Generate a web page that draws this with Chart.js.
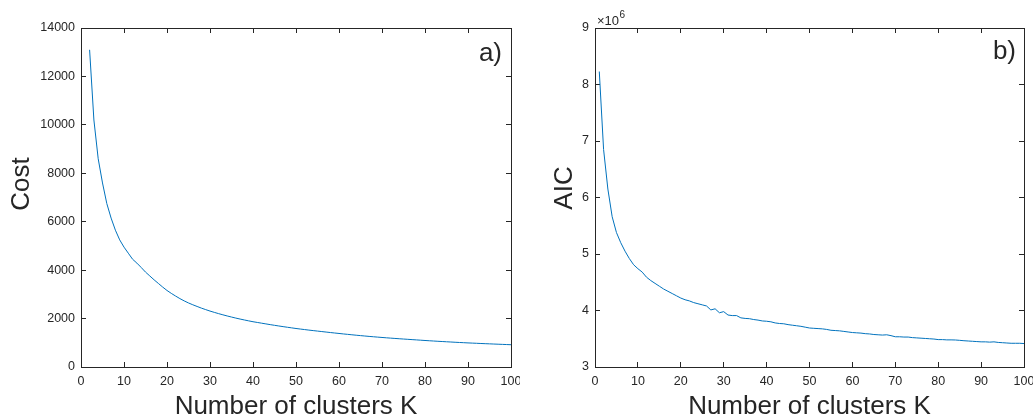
<!DOCTYPE html>
<html>
<head>
<meta charset="utf-8">
<title>Cost and AIC versus number of clusters</title>
<script src="https://cdn.jsdelivr.net/npm/chart.js@4/dist/chart.umd.min.js"></script>
<style>
  html, body { margin: 0; padding: 0; background: #ffffff; }
  #wrap { position: relative; width: 1033px; height: 417px; overflow: hidden; background: #ffffff; }
  canvas { position: absolute; top: 0; }
  #costCanvas { left: 0; }
  #aicCanvas { left: 520px; }
</style>
</head>
<body>
<div id="wrap">
  <canvas id="costCanvas" width="520" height="417"></canvas>
  <canvas id="aicCanvas" width="513" height="417"></canvas>
</div>
<script>
// ---- data ----------------------------------------------------------
// Panel a): clustering cost for K = 2 .. 100
const costK = Array.from({ length: 99 }, (_, i) => i + 2);
const costValues = [
  13100, 10200, 8600, 7600, 6750, 6150, 5650, 5250, 4950,        // K 2-10
  4700, 4450, 4290, 4110, 3920, 3760, 3600, 3450, 3300, 3160,    // K 11-20
  3040, 2930, 2825, 2730, 2645, 2570, 2500, 2432, 2370, 2310,    // K 21-30
  2256, 2204, 2155, 2108, 2063, 2020, 1980, 1942, 1905, 1870,    // K 31-40
  1840, 1810, 1780, 1750, 1722, 1694, 1667, 1641, 1616, 1590,    // K 41-50
  1568, 1546, 1524, 1503, 1483, 1463, 1443, 1423, 1404, 1385,    // K 51-60
  1366, 1348, 1330, 1313, 1296, 1280, 1264, 1249, 1234, 1220,    // K 61-70
  1206, 1193, 1180, 1167, 1155, 1143, 1131, 1119, 1107, 1095,    // K 71-80
  1084, 1073, 1062, 1052, 1042, 1032, 1022, 1013, 1004, 995,     // K 81-90
  987, 979, 971, 963, 956, 948, 941, 934, 927, 920               // K 91-100
];

// Panel b): AIC for K = 1 .. 100
const aicK = Array.from({ length: 100 }, (_, i) => i + 1);
const aicValues = [
  8.23e6, 6.85e6, 6.15e6, 5.66e6, 5.38e6, 5.20e6, 5.05e6, 4.92e6, 4.81e6, 4.74e6,
  4.68e6, 4.59e6, 4.53e6, 4.48e6, 4.43e6, 4.38e6, 4.34e6, 4.30e6, 4.26e6, 4.22e6,
  4.19e6, 4.17e6, 4.14e6, 4.12e6, 4.10e6, 4.08e6, 4.01e6, 4.03e6, 3.96e6, 3.98e6,
  3.92e6, 3.91e6, 3.91e6, 3.87e6, 3.86e6, 3.855e6, 3.84e6, 3.83e6, 3.815e6, 3.81e6,
  3.80e6, 3.78e6, 3.77e6, 3.765e6, 3.75e6, 3.74e6, 3.73e6, 3.72e6, 3.705e6, 3.69e6,
  3.685e6, 3.68e6, 3.675e6, 3.665e6, 3.65e6, 3.645e6, 3.64e6, 3.63e6, 3.62e6, 3.61e6,
  3.605e6, 3.60e6, 3.59e6, 3.585e6, 3.575e6, 3.57e6, 3.565e6, 3.57e6, 3.555e6, 3.535e6,
  3.535e6, 3.53e6, 3.53e6, 3.52e6, 3.515e6, 3.51e6, 3.505e6, 3.50e6, 3.495e6, 3.485e6,
  3.485e6, 3.48e6, 3.48e6, 3.478e6, 3.472e6, 3.465e6, 3.46e6, 3.455e6, 3.45e6, 3.445e6,
  3.445e6, 3.44e6, 3.445e6, 3.435e6, 3.43e6, 3.425e6, 3.42e6, 3.42e6, 3.42e6, 3.415e6
];

// Axis ranges and tick steps
const xRange = [0, 100];
const xStep = 10;
const costRange = [0, 14000];
const costStep = 2000;
const aicRange = [3e6, 9e6];
const aicStep = 1e6;
const aicExponent = 6;

// Text
const xTitle = 'Number of clusters K';
const costTitle = 'Cost';
const aicTitle = 'AIC';
const costPanelTag = 'a)';
const aicPanelTag = 'b)';

// ---- styling -------------------------------------------------------
const FONT = '"Liberation Sans", Arial, Helvetica, sans-serif';
const INK = '#262626';
const LINE = '#0072BD';
const TICK_FONT = { family: FONT, size: 12.5 };

// plain integer tick text (no thousands separators)
const plainTick = (v) => String(Math.round(v));

// Extra labels: rotated y title, panel tag, optional exponent
const panelDecor = {
  id: 'panelDecor',
  afterDraw(chart, args, opts) {
    const { ctx, chartArea: a } = chart;
    ctx.save();
    ctx.fillStyle = INK;

    // y-axis title, rotated
    ctx.save();
    ctx.font = '26px ' + FONT;
    ctx.translate(a.left + opts.yTitleDx, opts.yTitleY);
    ctx.rotate(-Math.PI / 2);
    ctx.textAlign = 'center';
    ctx.textBaseline = 'middle';
    ctx.fillText(opts.yTitle, 0, 0);
    ctx.restore();

    // panel tag in the upper-right corner
    ctx.font = '26px ' + FONT;
    ctx.textAlign = 'right';
    ctx.textBaseline = 'alphabetic';
    ctx.fillText(opts.tag, a.right + opts.tagDx, opts.tagY);

    // exponent marker above the y axis
    if (opts.exponent != null) {
      ctx.textAlign = 'left';
      ctx.textBaseline = 'alphabetic';
      ctx.font = '13px ' + FONT;
      const base = '\u00d710';
      const x0 = a.left + 2;
      ctx.fillText(base, x0, a.top - 3);
      const w = ctx.measureText(base).width;
      ctx.font = '10px ' + FONT;
      ctx.fillText(String(opts.exponent), x0 + w + 0.5, a.top - 10);
    }
    ctx.restore();
  }
};

function fixSize(w, h) {
  return (scale) => {
    if (w !== null) scale.width = w;
    if (h !== null) scale.height = h;
    scale.paddingLeft = 0;
    scale.paddingRight = 0;
    scale.paddingTop = 0;
    scale.paddingBottom = 0;
  };
}

function boxAxis(position, range, step, showLabels, fit, extra) {
  return Object.assign({
    type: 'linear',
    position: position,
    min: range[0],
    max: range[1],
    border: { display: true, color: INK, width: 1 },
    grid: {
      drawOnChartArea: false,
      drawTicks: true,
      tickLength: -5,
      color: INK,
      lineWidth: 1
    },
    ticks: {
      display: showLabels,
      stepSize: step,
      color: INK,
      font: TICK_FONT,
      padding: 11,
      maxRotation: 0,
      autoSkip: false,
      callback: plainTick
    },
    afterFit: fit
  }, extra || {});
}

function makePanel(canvasId, xs, ys, yRange, yStep, decor, leftWidth, yFormat) {
  const points = xs.map((k, i) => ({ x: k, y: ys[i] }));
  const xBottom = boxAxis('bottom', xRange, xStep, true, fixSize(null, 50), {
    title: {
      display: true,
      text: xTitle,
      color: INK,
      font: { family: FONT, size: 26, lineHeight: 1 },
      padding: { top: 0, bottom: -3 }
    }
  });
  xBottom.ticks.padding = 12.5;
  const yLeft = boxAxis('left', yRange, yStep, true, fixSize(leftWidth, null));
  if (yFormat) yLeft.ticks.callback = yFormat;

  return new Chart(document.getElementById(canvasId), {
    type: 'line',
    data: {
      datasets: [{
        data: points,
        borderColor: LINE,
        borderWidth: 1,
        pointRadius: 0,
        fill: false,
        tension: 0,
        xAxisID: 'x',
        yAxisID: 'y'
      }]
    },
    options: {
      responsive: false,
      animation: false,
      devicePixelRatio: 1,
      layout: { autoPadding: false, padding: { top: 28, right: 9, left: 0, bottom: 0 } },
      plugins: {
        legend: { display: false },
        tooltip: { enabled: false },
        panelDecor: decor
      },
      scales: {
        x: xBottom,
        x2: boxAxis('top', xRange, xStep, false, fixSize(null, 0)),
        y: yLeft,
        y2: boxAxis('right', yRange, yStep, false, fixSize(0, null))
      }
    },
    plugins: [panelDecor]
  });
}

makePanel('costCanvas', costK, costValues, costRange, costStep, {
  yTitle: costTitle, yTitleDx: -59, yTitleY: 184,
  tag: costPanelTag, tagDx: -9, tagY: 61,
  exponent: null
}, 81, null);

makePanel('aicCanvas', aicK, aicValues, aicRange, aicStep, {
  yTitle: aicTitle, yTitleDx: -30, yTitleY: 188,
  tag: aicPanelTag, tagDx: -8, tagY: 59,
  exponent: aicExponent
}, 75, (v) => String(Math.round(v / Math.pow(10, aicExponent))));
</script>
</body>
</html>
